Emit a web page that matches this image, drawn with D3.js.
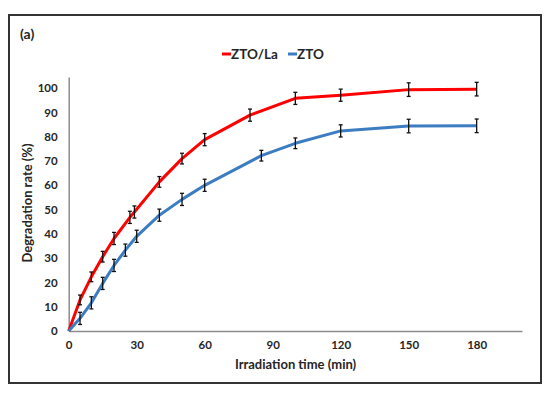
<!DOCTYPE html>
<html>
<head>
<meta charset="utf-8">
<script src="https://cdn.jsdelivr.net/npm/d3@7"></script>
<style>
    body { margin: 0; background: #fff; }
    text { font-family: Lato, "Open Sans", sans-serif; font-weight: bold; fill: #262626; }
</style>
</head>
<body>
<div id="viz"></div>
<script>
const seriesNames = ['ZTO/La', 'ZTO'];
const seriesColors = ['#ff0000', '#3c7dc2'];

const laTime = [0, 5, 10, 15, 20, 27, 29, 40, 50, 60, 80, 100, 120, 150, 180];
const laRate = [0, 12.8, 22.3, 30.6, 38.1, 46.8, 49, 61.4, 71, 78.8, 88.9, 95.8, 97.1, 99.4, 99.6];
const laErr  = [0, 2, 2, 2.2, 2.5, 2.5, 2.5, 2.2, 2.2, 2.5, 2.5, 2.5, 2.5, 2.8, 2.8];

const ztoTime = [0, 5, 10, 15, 20, 25, 30, 40, 50, 60, 85, 100, 120, 150, 180];
const ztoRate = [0, 5.2, 11.6, 19.6, 27, 33.3, 39, 47.7, 54.2, 60, 72.2, 77.3, 82.4, 84.4, 84.5];
const ztoErr  = [0, 2.5, 2.5, 2.5, 2.5, 2.5, 2.5, 2.5, 2.5, 2.5, 2.2, 2.2, 2.5, 2.8, 2.8];

const xTicks = [0, 30, 60, 90, 120, 150, 180];
const yTicks = [0, 10, 20, 30, 40, 50, 60, 70, 80, 90, 100];

const width = 550;
const height = 395;

const svg = d3.select('#viz')
              .append('svg')
              .attr('width', width)
              .attr('height', height);

// outer frame
svg.append('rect')
   .attr('x', 9)
   .attr('y', 15)
   .attr('width', 532)
   .attr('height', 368)
   .attr('fill', 'none')
   .attr('stroke', '#333')
   .attr('stroke-width', 2);

svg.append('text')
   .attr('x', 20)
   .attr('y', 39)
   .style('font-size', '14px')
   .text('(a)');

const xScale = d3.scaleLinear().domain([0, 200]).range([68.7, 522]);
const yScale = d3.scaleLinear().domain([0, 104.6]).range([331, 77]);

const xAxis = d3.axisBottom(xScale).tickValues(xTicks).tickSize(0).tickPadding(10).tickFormat(d3.format('d'));
const yAxis = d3.axisLeft(yScale).tickValues(yTicks).tickSize(0).tickPadding(11).tickFormat(d3.format('d'));

const gx = svg.append('g')
   .attr('transform', 'translate(0,' + yScale(0) + ')')
   .call(xAxis);
const gy = svg.append('g')
   .attr('transform', 'translate(' + xScale(0) + ',0)')
   .call(yAxis);

[gx, gy].forEach(g => {
    g.select('.domain').attr('stroke', '#8c8c8c').attr('stroke-width', 1.5);
    g.selectAll('text').style('font-size', '11.5px').attr('fill', '#262626')
     .style('font-family', 'Lato, sans-serif').style('font-weight', 'bold');
});

svg.append('text')
   .attr('x', 295.5)
   .attr('y', 369)
   .attr('text-anchor', 'middle')
   .style('font-size', '13px')
   .text('Irradiation time (min)');

svg.append('text')
   .attr('transform', 'translate(32,203) rotate(-90)')
   .attr('text-anchor', 'middle')
   .style('font-size', '13px')
   .text('Degradation rate (%)');

const series = [
    { name: seriesNames[0], color: seriesColors[0], pts: laTime.map((t, i) => ({ t: t, v: laRate[i], e: laErr[i] })) },
    { name: seriesNames[1], color: seriesColors[1], pts: ztoTime.map((t, i) => ({ t: t, v: ztoRate[i], e: ztoErr[i] })) }
];

const line = d3.line().x(d => xScale(d.t)).y(d => yScale(d.v));

series.forEach(s => {
    svg.append('path')
       .datum(s.pts)
       .attr('d', line)
       .attr('fill', 'none')
       .attr('stroke', s.color)
       .attr('stroke-width', 3)
       .attr('stroke-linejoin', 'round');
});

series.forEach(s => {
    const eb = svg.append('g').selectAll('g')
       .data(s.pts.filter(d => d.e > 0))
       .enter()
       .append('g')
       .attr('stroke', '#111')
       .attr('stroke-width', 1.3);
    eb.append('line')
      .attr('x1', d => xScale(d.t)).attr('x2', d => xScale(d.t))
      .attr('y1', d => yScale(d.v - d.e)).attr('y2', d => yScale(d.v + d.e));
    eb.append('line')
      .attr('x1', d => xScale(d.t) - 2).attr('x2', d => xScale(d.t) + 2)
      .attr('y1', d => yScale(d.v - d.e)).attr('y2', d => yScale(d.v - d.e));
    eb.append('line')
      .attr('x1', d => xScale(d.t) - 2).attr('x2', d => xScale(d.t) + 2)
      .attr('y1', d => yScale(d.v + d.e)).attr('y2', d => yScale(d.v + d.e));
});

// legend
const legendX = [222, 288];
series.forEach((s, i) => {
    svg.append('line')
       .attr('x1', legendX[i]).attr('x2', legendX[i] + 9)
       .attr('y1', 54).attr('y2', 54)
       .attr('stroke', s.color)
       .attr('stroke-width', 3);
    svg.append('text')
       .attr('x', legendX[i] + 9)
       .attr('y', 59)
       .style('font-size', '13.5px')
       .text(s.name);
});
</script>
</body>
</html>
